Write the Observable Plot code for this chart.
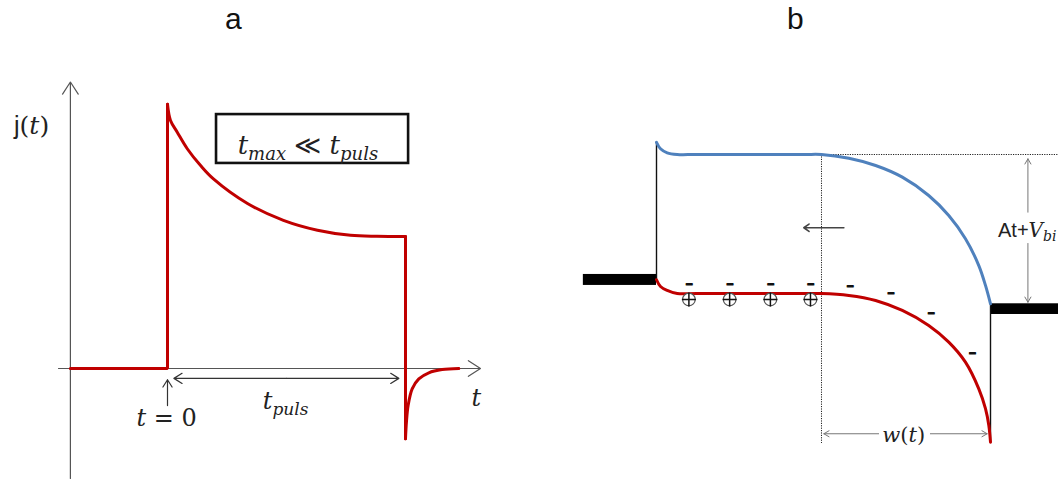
<!DOCTYPE html>
<html><head><meta charset="utf-8">
<script src="https://cdn.jsdelivr.net/npm/d3@7"></script>
<script src="https://cdn.jsdelivr.net/npm/@observablehq/plot@0.6"></script>
<style>
html,body{margin:0;padding:0;background:#fff}
#wrap{position:relative;width:1058px;height:481px;overflow:hidden;background:#fff}
#wrap>svg{position:absolute;top:0}
</style>
</head><body><div id="wrap"></div>
<script>
const RED = "#C00000", BLUE = "#4F81BD", AX = "#555";
const SERIF = "DejaVu Serif, serif", SANS = "Liberation Sans, Arial, sans-serif";

// ---------- Panel a : current transient j(t) (t in units of t_puls) ----------
const baseT  = [-0.408, 0, 0];
const baseJ  = [0, 0, 0.99];
const decayT = [0, 0.0126, 0.041, 0.083, 0.139, 0.193, 0.336, 0.487, 0.630, 0.769, 0.88, 1.0];
const decayJ = [0.99, 0.929, 0.885, 0.823, 0.760, 0.710, 0.618, 0.555, 0.518, 0.499, 0.495, 0.494];
const dropT  = [1.0, 1.0];
const dropJ  = [0.494, -0.263];
const recT   = [1.0, 1.004, 1.011, 1.028, 1.056, 1.098, 1.154, 1.224];
const recJ   = [-0.263, -0.20, -0.139, -0.076, -0.039, -0.016, -0.004, 0];

// axes (t, j) endpoints
const axisAX1 = [-0.408, -0.458], axisAY1 = [-0.412, 0];
const axisAX2 = [-0.408, 1.315],  axisAY2 = [1.073, 0];
// annotation arrows: t=0 marker, t_puls span (both directions)
const t0ArrowT = [0], t0ArrowJ1 = [-0.139], t0ArrowJ2 = [-0.042];
const spanMid = 0.5, spanJ = -0.037, spanEnds = [0.027, 0.972];
// box
const boxT = [0.206, 1.013], boxJ = [0.768, 0.951];
// labels
const aLabels = ["j(t)", "tmax ≪ tpuls", "t = 0", "tpuls", "t"];
const aLabelT = [-0.571, 0.590, -0.004, 0.496, 1.298];
const aLabelJ = [0.880, 0.805, -0.217, -0.150, -0.139];
const aLabelSize = [25, 26, 24, 24, 24];

const pts = (xs, ys) => xs.map((x, i) => ({x, y: ys[i]}));

const plotA = Plot.plot({
  width: 529, height: 481,
  x: {domain: [0, 1], range: [167, 405], axis: null},
  y: {domain: [0, 1], range: [368, 101], axis: null},
  style: {background: "white"},
  marks: [
    Plot.arrow(axisAX1.map((d, i) => i), {
      x1: i => axisAX1[i], y1: i => axisAY1[i], x2: i => axisAX2[i], y2: i => axisAY2[i],
      stroke: AX, strokeWidth: 1.2, headLength: 18, headAngle: 66
    }),
    Plot.line(pts(baseT, baseJ), {x: "x", y: "y", stroke: RED, strokeWidth: 3, strokeLinejoin: "miter"}),
    Plot.line(pts(decayT, decayJ), {x: "x", y: "y", stroke: RED, strokeWidth: 3, curve: "catmull-rom"}),
    Plot.line(pts(dropT, dropJ), {x: "x", y: "y", stroke: RED, strokeWidth: 3, strokeLinejoin: "miter"}),
    Plot.line(pts(recT, recJ), {x: "x", y: "y", stroke: RED, strokeWidth: 3, curve: "catmull-rom"}),
    Plot.arrow(t0ArrowT, {x1: d => d, x2: d => d, y1: t0ArrowJ1[0], y2: t0ArrowJ2[0],
      stroke: "#333", strokeWidth: 1.2, headLength: 12, headAngle: 64}),
    Plot.arrow(spanEnds, {x1: spanMid, x2: d => d, y1: spanJ, y2: spanJ,
      stroke: "#333", strokeWidth: 1.2, headLength: 12, headAngle: 64}),
    Plot.rect([0], {x1: boxT[0], x2: boxT[1], y1: boxJ[0], y2: boxJ[1],
      fill: "white", stroke: "#111", strokeWidth: 2.6}),
    Plot.text(aLabels, {x: (d, i) => aLabelT[i], y: (d, i) => aLabelJ[i], text: d => d,
      fontSize: (d, i) => aLabelSize[i], fontFamily: SERIF, lineAnchor: "bottom", fill: "#222"}),
    Plot.text(["a"], {x: 0.277, y: 1.273, text: d => d, fontSize: 30, fontFamily: SANS,
      lineAnchor: "bottom", fill: "#111"})
  ]
});

// ---------- Panel b : band diagram (x: position, E: energy) ----------
const cbX = [0, 0.012, 0.032, 0.062, 0.12, 0.44, 0.494, 0.576, 0.656, 0.736, 0.815, 0.875, 0.925, 0.965, 0.985, 1.0];
const cbE = [1.088, 1.041, 1.012, 1.0, 1.0, 1.0, 1.0, 0.973, 0.921, 0.837, 0.705, 0.561, 0.394, 0.201, 0.058, -0.074];
const vbX = [0, 0.012, 0.032, 0.062, 0.12, 0.44, 0.494, 0.576, 0.656, 0.736, 0.815, 0.875, 0.925, 0.965, 0.985, 0.995, 1.0];
const vbE = [0.099, 0.050, 0.022, 0, 0, 0, 0, -0.014, -0.050, -0.122, -0.230, -0.350, -0.494, -0.686, -0.829, -0.950, -1.070];
// metal contacts (thick bars)
const contactX1 = [-0.219, 1.0], contactX2 = [0, 1.204];
const contactE1 = [0.058, -0.151], contactE2 = [0.137, -0.074];
// thin interface lines
const ifaceX = [0, 1], ifaceE1 = [0.097, -0.074], ifaceE2 = [1.088, -1.070];
// depletion edge (dotted)
const edgeX = 0.494, edgeTopE = 1.0, edgeBotE = -1.079, dotRightX = 1.204;
// charges
const minusX = [0.097, 0.219, 0.341, 0.461, 0.579, 0.701, 0.822, 0.945];
const minusE = [0.065, 0.065, 0.065, 0.065, 0.050, 0.002, -0.142, -0.427];
const plusX  = [0.097, 0.219, 0.341, 0.461];
const plusE  = [-0.043, -0.043, -0.043, -0.043];
// annotation arrows
const driftX1 = [0.561], driftX2 = [0.441], driftE = 0.473;
const vArrX = 1.112, vArrFrom = [0.585, 0.360], vArrTo = [0.969, -0.063];
const wArrE = -1.009, wArrFrom = [0.665, 0.820], wArrTo = [0.501, 0.990];
const bLabels = ["At+Vbi", "w(t)"];
const bLabelX = [1.110, 0.740], bLabelE = [0.405, -1.065], bLabelSize = [20, 21];

const plotB = Plot.plot({
  width: 529, height: 481,
  x: {domain: [0, 1], range: [127, 461], axis: null},
  y: {domain: [0, 1], range: [293, 154], axis: null},
  style: {background: "white"},
  marks: [
    Plot.ruleY([edgeTopE], {x1: edgeX, x2: dotRightX, stroke: "#222", strokeWidth: 1, strokeDasharray: "1.2,1.2"}),
    Plot.ruleX([edgeX], {y1: edgeTopE, y2: edgeBotE, stroke: "#222", strokeWidth: 1, strokeDasharray: "1.2,1.2"}),
    Plot.rect(contactX1, {x1: d => d, x2: (d, i) => contactX2[i], y1: (d, i) => contactE1[i], y2: (d, i) => contactE2[i], fill: "#000"}),
    Plot.ruleX(ifaceX, {y1: (d, i) => ifaceE1[i], y2: (d, i) => ifaceE2[i], stroke: "#111", strokeWidth: 1.4}),
    Plot.line(pts(cbX, cbE), {x: "x", y: "y", stroke: BLUE, strokeWidth: 3, curve: "catmull-rom"}),
    Plot.line(pts(vbX, vbE), {x: "x", y: "y", stroke: RED, strokeWidth: 3, curve: "catmull-rom"}),
    Plot.dot(plusX, {x: d => d, y: (d, i) => plusE[i], r: 6.3, fill: "white", stroke: "#555", strokeWidth: 1.2}),
    Plot.dot(plusX, {x: d => d, y: (d, i) => plusE[i], r: 4.6, symbol: "plus", stroke: "#111", strokeWidth: 1.5}),
    Plot.text(minusX, {x: d => d, y: (d, i) => minusE[i], text: () => "\u2212", fontSize: 12, fontWeight: "bold",
      fontFamily: SANS, fill: "#111", stroke: "#111", strokeWidth: 1.1}),
    Plot.arrow(driftX1, {x1: d => d, x2: (d, i) => driftX2[i], y1: driftE, y2: driftE,
      stroke: "#444", strokeWidth: 1.6, headLength: 6, headAngle: 70}),
    Plot.arrow(vArrFrom, {x1: vArrX, x2: vArrX, y1: d => d, y2: (d, i) => vArrTo[i],
      stroke: "#777", strokeWidth: 1, headLength: 9, headAngle: 60}),
    Plot.arrow(wArrFrom, {x1: d => d, x2: (d, i) => wArrTo[i], y1: wArrE, y2: wArrE,
      stroke: "#777", strokeWidth: 1, headLength: 9, headAngle: 60}),
    Plot.text(bLabels, {x: (d, i) => bLabelX[i], y: (d, i) => bLabelE[i], text: d => d,
      fontSize: (d, i) => bLabelSize[i], fontFamily: SERIF, lineAnchor: "bottom", fill: "#222"}),
    Plot.text(["b"], {x: 0.416, y: 1.906, text: d => d, fontSize: 30, fontFamily: SANS,
      lineAnchor: "bottom", fill: "#111"})
  ]
});

// rich (math) formatting of labels, keeping them as real text
const it = s => `<tspan font-style="italic">${s}</tspan>`;
const sub = (s, fs, dy) => `<tspan font-style="italic" font-size="${fs}" dy="${dy}">${s}</tspan>`;
const rich = {
  "j(t)": `<tspan font-family="${SANS}">j</tspan>(${it("t")})`,
  "tmax ≪ tpuls": `${it("t")}${sub("max", 18, 6)}<tspan dy="-6"> ≪ </tspan>${it("t")}${sub("puls", 18, 6)}`,
  "t = 0": `${it("t")} = 0`,
  "tpuls": `${it("t")}${sub("puls", 17, 6)}`,
  "t": it("t"),
  "At+Vbi": `<tspan font-family="${SANS}">At+</tspan>${it("V")}${sub("bi", 14, 4)}`,
  "w(t)": `${it("w")}(${it("t")})`
};
for (const svg of [plotA, plotB]) {
  svg.querySelectorAll("text").forEach(el => {
    const r = rich[el.textContent];
    if (r !== undefined) el.innerHTML = r;
  });
}

const wrap = document.getElementById("wrap");
plotA.style.left = "0px";
plotB.style.left = "529px";
wrap.appendChild(plotA);
wrap.appendChild(plotB);
</script></body></html>
